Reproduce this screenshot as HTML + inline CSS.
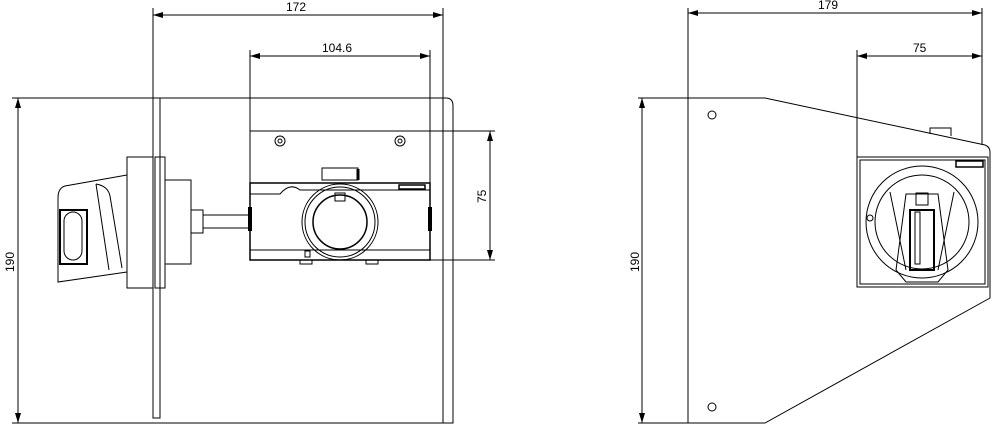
<!DOCTYPE html>
<html><head><meta charset="utf-8"><style>
html,body{margin:0;padding:0;background:#fff;}
svg{display:block;}
text{font-family:"Liberation Sans",sans-serif;font-size:12px;fill:#000;}
</style></head><body>
<svg width="1000" height="432" viewBox="0 0 1000 432" xmlns="http://www.w3.org/2000/svg">
<defs>
<marker id="a" viewBox="0 0 10 6" refX="10" refY="3" markerWidth="10" markerHeight="6" orient="auto-start-reverse"><path d="M0,0 L10,3 L0,6 z" fill="#000"/></marker>
</defs>
<g stroke="#000" fill="none" stroke-width="1">
<!-- LEFT VIEW dims -->
<line x1="153" y1="8" x2="153" y2="98"/>
<line x1="443" y1="8" x2="443" y2="98"/>
<line x1="153" y1="15" x2="443" y2="15" marker-start="url(#a)" marker-end="url(#a)"/>
<line x1="250" y1="50" x2="250" y2="183"/>
<line x1="430" y1="50" x2="430" y2="183"/>
<line x1="250" y1="56" x2="430" y2="56" marker-start="url(#a)" marker-end="url(#a)"/>
<line x1="18" y1="98" x2="18" y2="423" marker-start="url(#a)" marker-end="url(#a)"/>
<line x1="430" y1="131" x2="495" y2="131"/>
<line x1="430" y1="260" x2="495" y2="260"/>
<line x1="490" y1="131" x2="490" y2="260" marker-start="url(#a)" marker-end="url(#a)"/>
<!-- panel outline -->
<path d="M12,98 H446 Q453,98 453,106 V423 H12"/>
<line x1="443" y1="98" x2="443" y2="423"/>
<!-- plate -->
<rect x="153" y="98" width="7" height="320"/>
<!-- flange -->
<rect x="127" y="157" width="26" height="131"/>
<rect x="155" y="157" width="10" height="131"/>
<rect x="165" y="180" width="26" height="84"/>
<!-- knob handle -->
<path d="M127,175 L65,186 Q58,188 58,198 V282 L127,272"/>
<line x1="96" y1="184" x2="109" y2="270"/>
<path d="M96,184 Q108,186 110,196 L122,268"/>
<rect x="60" y="210" width="27" height="54" stroke-width="2"/>
<rect x="64" y="212" width="18" height="48" rx="9"/>
<!-- shaft -->
<rect x="191" y="210" width="12" height="23"/>
<line x1="203" y1="215" x2="250" y2="215"/>
<line x1="203" y1="228" x2="250" y2="228"/>
<!-- switch box -->
<line x1="250" y1="131" x2="443" y2="131"/>
<circle cx="280" cy="141" r="5"/><circle cx="280" cy="141" r="2"/>
<circle cx="400" cy="141" r="5"/><circle cx="400" cy="141" r="2"/>
<rect x="322" y="168" width="36" height="12"/>
<line x1="358" y1="169" x2="358" y2="180" stroke-width="3"/>
<path d="M250,183 H430 V260 H250 Z" stroke-width="1.5"/>
<path d="M250,194 H280 Q290,182 300,190 H430"/>
<line x1="250" y1="250" x2="430" y2="250"/>
<rect x="399" y="185" width="26" height="4" stroke-width="1.5"/>
<circle cx="340" cy="222" r="38"/>
<circle cx="340" cy="222" r="35"/>
<circle cx="340" cy="222" r="27" stroke-width="1.5"/>
<rect x="335" y="193" width="10" height="8"/>
<rect x="305" y="251" width="5" height="6"/>
<rect x="300" y="260" width="12" height="4"/>
<rect x="366" y="260" width="12" height="4"/>
<rect x="249" y="208" width="2" height="22" stroke-width="2"/>
<rect x="429" y="208" width="2" height="22" stroke-width="2"/>

<!-- RIGHT VIEW dims -->
<line x1="688" y1="8" x2="688" y2="98"/>
<line x1="982" y1="8" x2="982" y2="145"/>
<line x1="688" y1="13" x2="982" y2="13" marker-start="url(#a)" marker-end="url(#a)"/>
<line x1="857" y1="50" x2="857" y2="157"/>
<line x1="857" y1="56" x2="982" y2="56" marker-start="url(#a)" marker-end="url(#a)"/>
<line x1="638" y1="98" x2="688" y2="98"/>
<line x1="638" y1="423" x2="688" y2="423"/>
<line x1="642" y1="98" x2="642" y2="423" marker-start="url(#a)" marker-end="url(#a)"/>
<path d="M688,98 H765 L985,145 Q990,147 990,152 V298 L765,423 H688 Z"/>
<circle cx="712" cy="115" r="4"/>
<circle cx="712" cy="407" r="4"/>
<path d="M930,134 V128 H951 V136"/>
<rect x="857" y="157" width="131" height="130"/>
<rect x="860" y="160" width="125" height="124"/>
<rect x="956" y="161" width="27" height="6" stroke-width="1.5"/>
<circle cx="922" cy="222" r="56"/>
<circle cx="922" cy="222" r="47"/>
<path d="M906,194 H938 L948,270 L938,282 H906 L896,270 Z"/>
<rect x="910" y="210" width="24" height="60" stroke-width="2"/>
<rect x="915" y="212" width="5" height="52"/>
<line x1="890" y1="192" x2="906" y2="270"/>
<line x1="954" y1="192" x2="938" y2="270"/>
<circle cx="870" cy="218" r="3"/>
<rect x="916" y="193" width="12" height="12"/>
</g>
<text x="286" y="11">172</text>
<text x="322" y="52">104.6</text>
<text x="818" y="9">179</text>
<text x="913" y="52">75</text>
<text transform="translate(14,272) rotate(-90)">190</text>
<text transform="translate(639,272) rotate(-90)">190</text>
<text transform="translate(486,203) rotate(-90)">75</text>
</svg>
</body></html>
